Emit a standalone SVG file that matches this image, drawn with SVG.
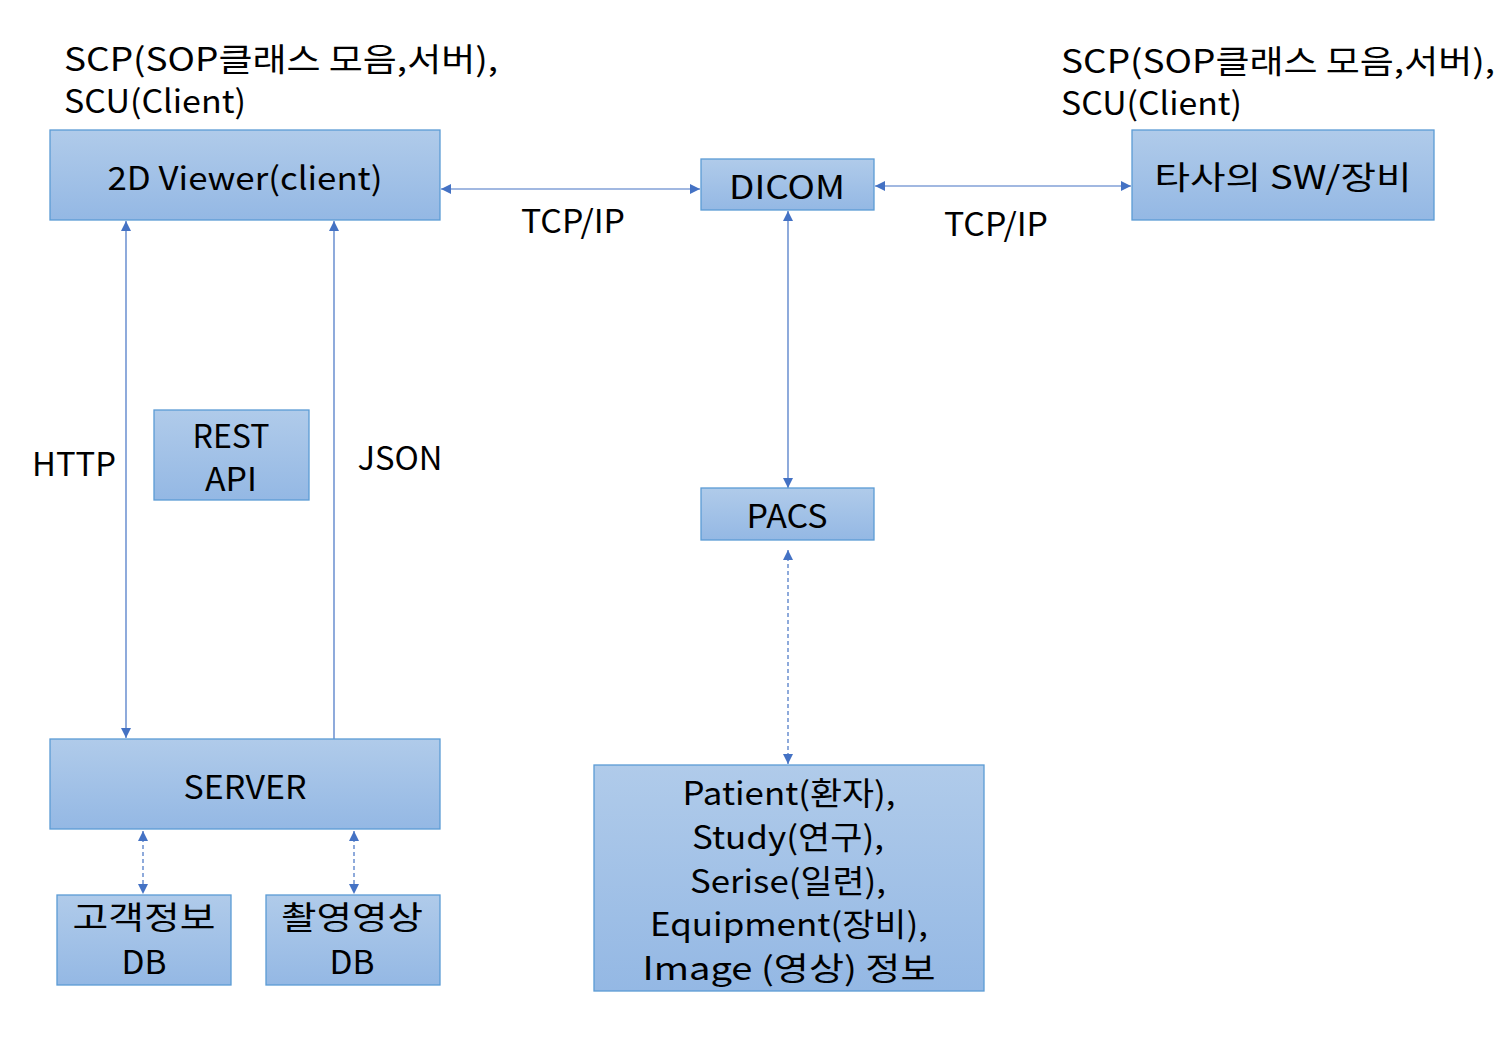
<svg xmlns="http://www.w3.org/2000/svg" width="1505" height="1045" viewBox="0 0 1505 1045">
<defs>
<linearGradient id="g" x1="0" y1="0" x2="0" y2="1">
<stop offset="0" stop-color="#b0cbea"/>
<stop offset="1" stop-color="#94b8e4"/>
</linearGradient>
<marker id="a" viewBox="0 0 10 10" refX="10" refY="5" markerWidth="10" markerHeight="10" markerUnits="userSpaceOnUse" orient="auto-start-reverse">
<path d="M0,0 L10,5 L0,10 z" fill="#4472c4"/>
</marker>
<style>
.box{fill:url(#g);stroke:#5b9bd5;stroke-width:1.3}
.t{font-family:"Noto Sans CJK KR","Noto Sans",sans-serif;font-size:32px;fill:#000;text-anchor:middle;dominant-baseline:central}
.l{font-family:"Noto Sans CJK KR","Noto Sans",sans-serif;font-size:32px;fill:#000}
.c{stroke:#4472c4;stroke-width:1.2;fill:none}
.d{stroke-dasharray:4 3}
</style>
</defs>
<g id="labels">
<text class="l" x="64" y="71" textLength="434" lengthAdjust="spacingAndGlyphs">SCP(SOP클래스 모음,서버),</text>
<text class="l" x="64" y="113" textLength="182" lengthAdjust="spacingAndGlyphs">SCU(Client)</text>
<text class="l" x="1061" y="73" textLength="434" lengthAdjust="spacingAndGlyphs">SCP(SOP클래스 모음,서버),</text>
<text class="l" x="1061" y="115" textLength="181" lengthAdjust="spacingAndGlyphs">SCU(Client)</text>
<text class="t" x="573" y="219" textLength="104" lengthAdjust="spacingAndGlyphs">TCP/IP</text>
<text class="t" x="996" y="222" textLength="104" lengthAdjust="spacingAndGlyphs">TCP/IP</text>
<text class="t" x="74" y="462" textLength="84" lengthAdjust="spacingAndGlyphs">HTTP</text>
<text class="t" x="400" y="456" textLength="85" lengthAdjust="spacingAndGlyphs">JSON</text>
</g>
<g id="connectors">
<line class="c" x1="441" y1="189" x2="700" y2="189" marker-start="url(#a)" marker-end="url(#a)"/>
<line class="c" x1="875" y1="186" x2="1131" y2="186" marker-start="url(#a)" marker-end="url(#a)"/>
<line class="c" x1="788" y1="211" x2="788" y2="488" marker-start="url(#a)" marker-end="url(#a)"/>
<line class="c" x1="126" y1="221" x2="126" y2="738" marker-start="url(#a)" marker-end="url(#a)"/>
<line class="c" x1="334" y1="739" x2="334" y2="221" marker-end="url(#a)"/>
<line class="c d" x1="143" y1="831" x2="143" y2="894" marker-start="url(#a)" marker-end="url(#a)"/>
<line class="c d" x1="354" y1="831" x2="354" y2="894" marker-start="url(#a)" marker-end="url(#a)"/>
<line class="c d" x1="788" y1="550" x2="788" y2="764" marker-start="url(#a)" marker-end="url(#a)"/>
</g>
<g id="viewer">
<rect class="box" x="50" y="130" width="390" height="90"/>
<text class="t" x="245" y="176" textLength="275" lengthAdjust="spacingAndGlyphs">2D Viewer(client)</text>
</g>
<g id="dicom">
<rect class="box" x="701" y="159" width="173" height="51"/>
<text class="t" x="787" y="185" textLength="116" lengthAdjust="spacingAndGlyphs">DICOM</text>
</g>
<g id="other">
<rect class="box" x="1132" y="130" width="302" height="90"/>
<text class="t" x="1283" y="175" textLength="257" lengthAdjust="spacingAndGlyphs">타사의 SW/장비</text>
</g>
<g id="rest">
<rect class="box" x="154" y="410" width="155" height="90"/>
<text class="t" x="231" y="434" textLength="77" lengthAdjust="spacingAndGlyphs">REST</text>
<text class="t" x="231" y="477" textLength="52" lengthAdjust="spacingAndGlyphs">API</text>
</g>
<g id="pacs">
<rect class="box" x="701" y="488" width="173" height="52"/>
<text class="t" x="787" y="514" textLength="81" lengthAdjust="spacingAndGlyphs">PACS</text>
</g>
<g id="server">
<rect class="box" x="50" y="739" width="390" height="90"/>
<text class="t" x="245" y="785" textLength="123" lengthAdjust="spacingAndGlyphs">SERVER</text>
</g>
<g id="custdb">
<rect class="box" x="57" y="895" width="174" height="90"/>
<text class="t" x="144" y="915" textLength="143" lengthAdjust="spacingAndGlyphs">고객정보</text>
<text class="t" x="144" y="960" textLength="45" lengthAdjust="spacingAndGlyphs">DB</text>
</g>
<g id="imgdb">
<rect class="box" x="266" y="895" width="174" height="90"/>
<text class="t" x="352" y="915" textLength="142" lengthAdjust="spacingAndGlyphs">촬영영상</text>
<text class="t" x="352" y="960" textLength="45" lengthAdjust="spacingAndGlyphs">DB</text>
</g>
<g id="info">
<rect class="box" x="594" y="765" width="390" height="226"/>
<text class="t" x="789" y="791" textLength="213" lengthAdjust="spacingAndGlyphs">Patient(환자),</text>
<text class="t" x="788" y="835" textLength="192" lengthAdjust="spacingAndGlyphs">Study(연구),</text>
<text class="t" x="788" y="879" textLength="196" lengthAdjust="spacingAndGlyphs">Serise(일련),</text>
<text class="t" x="789" y="922" textLength="278" lengthAdjust="spacingAndGlyphs">Equipment(장비),</text>
<text class="t" x="789" y="966" textLength="293" lengthAdjust="spacingAndGlyphs">Image (영상) 정보</text>
</g>
</svg>
